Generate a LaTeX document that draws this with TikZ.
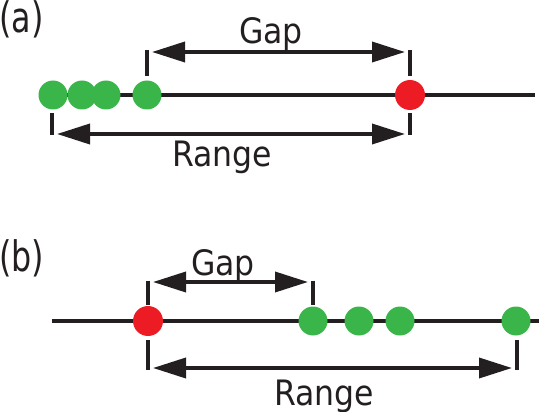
\documentclass[tikz,border=0pt]{standalone}
\usepackage{fontspec}
\setmainfont{DejaVu Sans Condensed}
\newfontfamily\panelfont[FakeStretch=0.84]{DejaVu Sans Condensed}
\usetikzlibrary{arrows.meta}
\definecolor{dotgreen}{HTML}{39B54A}
\definecolor{dotred}{HTML}{ED1C24}
\definecolor{ink}{HTML}{231F20}
\begin{document}
\begin{tikzpicture}[x=1pt,y=-1pt,
  axis/.style={line width=3.6pt, draw=ink},
  tickmark/.style={line width=3.4pt, draw=ink},
  dim/.style={line width=3.6pt, draw=ink, fill=ink,
    {Triangle[length=33pt,width=20pt]}-{Triangle[length=33pt,width=20pt]},
    shorten <=5pt, shorten >=5pt},
  gdot/.style={circle, fill=dotgreen, minimum size=29pt, inner sep=0pt},
  rdot/.style={circle, fill=dotred, minimum size=30pt, inner sep=0pt},
  lbl/.style={font=\fontsize{35}{42}\selectfont, text=ink, inner sep=0pt, anchor=base},
  plbl/.style={font=\panelfont\fontsize{42}{48}\selectfont, text=ink, inner sep=0pt, anchor=base west}]
\useasboundingbox (0,0) rectangle (539,412);

% ---------- panel (a) ----------
\node[plbl] (la) at (-1,32.5) {(a)};
\coordinate (a-start) at (53,95);
\coordinate (a-end) at (535,95);
\draw[axis] (a-start) -- (a-end);
\node[gdot] (a-g1) at (53,95) {};
\node[gdot] (a-g2) at (82,95) {};
\node[gdot] (a-g3) at (106,95) {};
\node[gdot] (a-g4) at (147,95) {};
\node[rdot] (a-r) at (410,95) {};
% ticks
\coordinate (a-t1top) at (147,50.5); \coordinate (a-t1bot) at (147,76);
\coordinate (a-t2top) at (410,50.5); \coordinate (a-t2bot) at (410,76);
\coordinate (a-t3top) at (52,113); \coordinate (a-t3bot) at (52,135.5);
\coordinate (a-t4top) at (410,113); \coordinate (a-t4bot) at (410,135.5);
\draw[tickmark] (a-t1top) -- (a-t1bot);
\draw[tickmark] (a-t2top) -- (a-t2bot);
\draw[tickmark] (a-t3top) -- (a-t3bot);
\draw[tickmark] (a-t4top) -- (a-t4bot);
\coordinate (a-gapL) at (147,52); \coordinate (a-gapR) at (410,52);
\coordinate (a-rngL) at (52,134); \coordinate (a-rngR) at (410,134);
\draw[dim] (a-gapL) -- (a-gapR);
\draw[dim] (a-rngL) -- (a-rngR);
\node[lbl] (a-gap) at (271,44) {Gap};
\node[lbl] (a-range) at (222,167) {Range};

% ---------- panel (b) ----------
\node[plbl] (lb) at (-1,271) {(b)};
\coordinate (b-start) at (51.5,321);
\coordinate (b-end) at (539,321);
\draw[axis] (b-start) -- (b-end);
\node[rdot] (b-r) at (148,321) {};
\node[gdot] (b-g1) at (313,321) {};
\node[gdot] (b-g2) at (359,321) {};
\node[gdot] (b-g3) at (400,321) {};
\node[gdot] (b-g4) at (516,321) {};
% ticks
\coordinate (b-t1top) at (148,280.5); \coordinate (b-t1bot) at (148,305);
\coordinate (b-t2top) at (313,280.5); \coordinate (b-t2bot) at (313,305);
\coordinate (b-t3top) at (148,340); \coordinate (b-t3bot) at (148,369.5);
\coordinate (b-t4top) at (517,340); \coordinate (b-t4bot) at (517,369.5);
\draw[tickmark] (b-t1top) -- (b-t1bot);
\draw[tickmark] (b-t2top) -- (b-t2bot);
\draw[tickmark] (b-t3top) -- (b-t3bot);
\draw[tickmark] (b-t4top) -- (b-t4bot);
\coordinate (b-gapL) at (148,282); \coordinate (b-gapR) at (313,282);
\coordinate (b-rngL) at (148,368); \coordinate (b-rngR) at (517,368);
\draw[dim] (b-gapL) -- (b-gapR);
\draw[dim] (b-rngL) -- (b-rngR);
\node[lbl] (b-gap) at (223,275) {Gap};
\node[lbl] (b-range) at (324,405) {Range};
\end{tikzpicture}
\end{document}
